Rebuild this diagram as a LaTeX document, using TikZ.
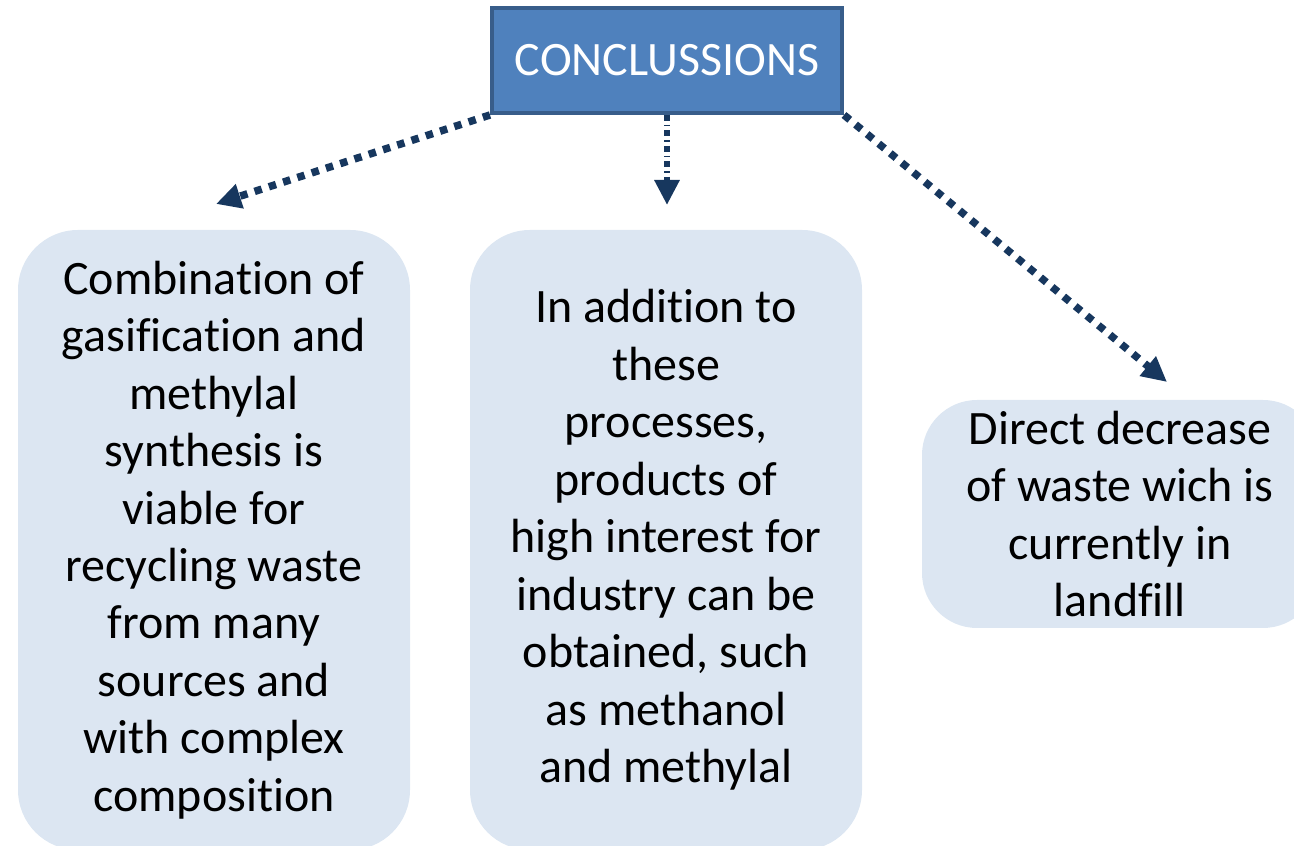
\documentclass[tikz,border=0pt]{standalone}
\usepackage{fontspec}
\setmainfont{Carlito}[Ligatures=NoCommon]
\usetikzlibrary{arrows.meta, positioning}
\definecolor{hdblue}{HTML}{4F81BD}
\definecolor{hdedge}{HTML}{385D8A}
\definecolor{paleblue}{HTML}{DCE6F2}
\definecolor{navy}{HTML}{17375E}

\begin{document}
\begin{tikzpicture}[>={Triangle[length=5mm, width=4.8mm]}]

% Canvas — same proportions as the slide, boxes run off the lower and right edges
\useasboundingbox (0,0) rectangle (25.88,16.92);
\clip (0,0) rectangle (25.88,16.92);

\tikzset{
  card/.style={fill=paleblue, rounded corners=1.2cm, align=center, inner sep=0pt,
    font=\fontsize{27.3}{32.7}\selectfont},
  link/.style={navy, line width=1.5mm, ->, dash pattern=on 1.5mm off 1.5mm}
}

% Title
\node[fill=hdblue, draw=hdedge, line width=0.8mm, minimum width=7cm, minimum height=2.1cm,
  text=white, font=\fontsize{27.3}{32}\selectfont] (concl) at (13.34,15.71) {CONCLUSSIONS};

% Three conclusion cards
\node[card, minimum width=7.84cm, minimum height=12.4cm] (gasif) at (4.28,6.12)
  {Combination of\\gasification and\\methylal\\synthesis is\\viable for\\recycling waste\\from many\\sources and\\with complex\\composition};
\node[card, minimum width=7.84cm, minimum height=12.4cm] (prods) at (13.32,6.12)
  {In addition to\\these\\processes,\\products of\\high interest for\\industry can be\\obtained, such\\as methanol\\and methylal};
\node[card, rounded corners=1.1cm, minimum width=7.92cm, minimum height=4.56cm] (waste) at (22.4,6.64)
  {Direct decrease\\of waste wich is\\currently in\\landfill};

% Arrow tips stop short of the cards
\coordinate (tipL) at (4.32,12.84);
\coordinate (tipM) at (13.34,12.82);
\coordinate (tipR) at (23.34,9.28);

% Dotted connectors
\draw[link] (concl.south west) -- (tipL);
\draw[link, line width=1.2mm, dash pattern=on 1.2mm off 0.8mm on 0.3mm off 0.8mm] (concl.south) -- (tipM);
\draw[link] (concl.south east) -- (tipR);

\end{tikzpicture}
\end{document}
